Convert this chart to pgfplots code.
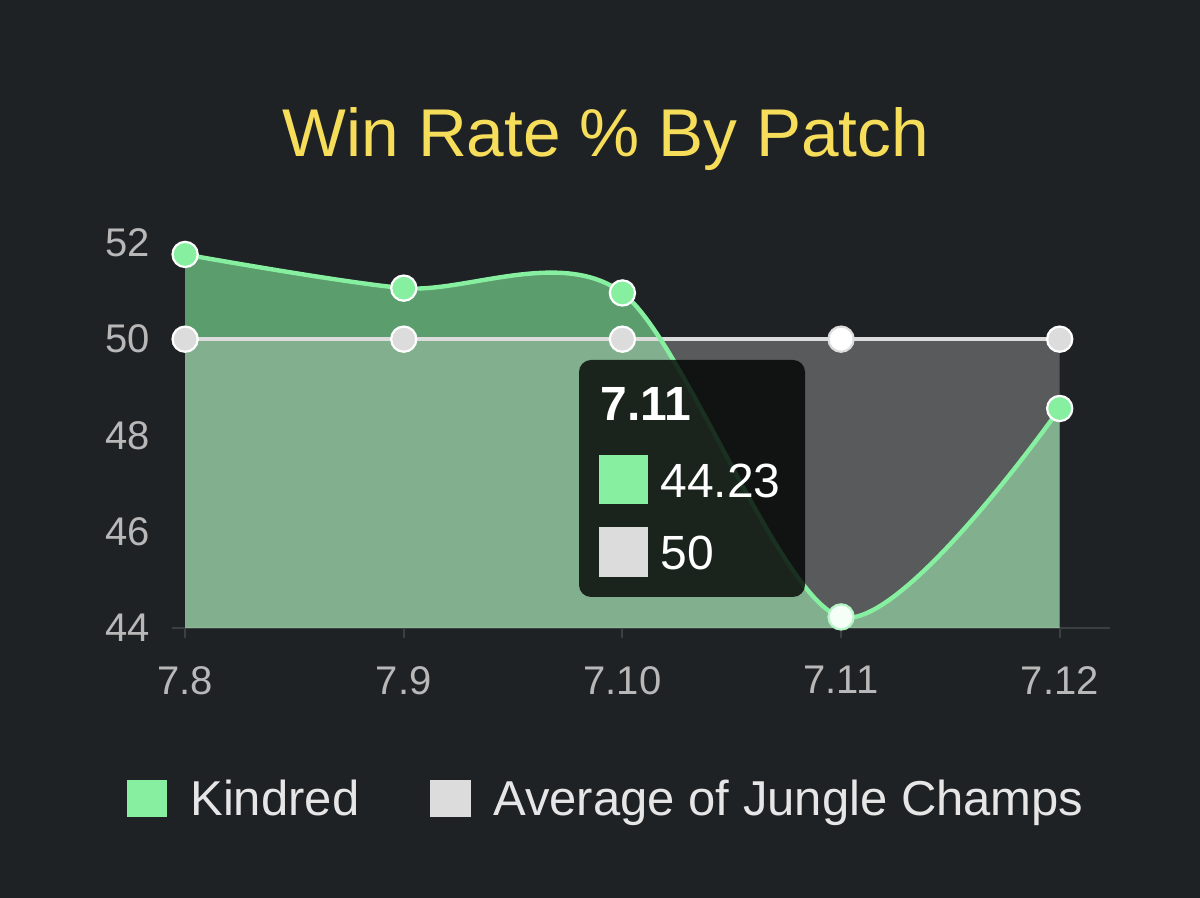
\documentclass[border=0pt]{standalone}
\usepackage{pgfplots}
\pgfplotsset{compat=1.18}
\usepackage{fontspec}
\setmainfont{Liberation Sans}
\definecolor{bg}{HTML}{1F2225}
\definecolor{kgreen}{HTML}{86F0A0}
\definecolor{agray}{HTML}{DCDCDC}
\definecolor{titleY}{HTML}{F6DE5A}
\definecolor{ticktxt}{HTML}{B8B8B8}
\definecolor{axline}{HTML}{3C3F42}
\definecolor{legtxt}{HTML}{E6E6E6}
\begin{document}
\begin{tikzpicture}
\fill[bg] (0,0) rectangle (600bp,449bp);
\node[anchor=base, text=titleY, font=\fontsize{33.8bp}{36bp}\selectfont, inner sep=0pt] at (303bp,370.5bp) {Win Rate \% By Patch};
\begin{axis}[
  at={(86bp,135bp)}, anchor=south west,
  scale only axis, width=469bp, height=207bp,
  xmin=-0.06, xmax=4.23, ymin=44, ymax=52.6,
  xtick={0,1,2,3,4}, xticklabels={7.8,7.9,7.10,7.11,7.12},
  ytick={44,46,48,50,52},
  axis lines*=left,
  x axis line style={draw=axline, line width=1bp},
  y axis line style={draw=none},
  xtick style={draw=axline, line width=1bp},
  ytick style={draw=none},
  tick align=outside, major tick length=5bp,
  tick label style={font=\fontsize{20bp}{22bp}\selectfont, text=ticktxt},
  x tick label style={anchor=north, inner sep=0pt, yshift=-14bp},
  y tick label style={anchor=east, inner sep=0pt, xshift=-6bp},
  /pgf/number format/assume math mode=true,
  clip mode=individual,
]
% Kindred fill
\addplot[fill=kgreen, fill opacity=0.6, draw=none, smooth, tension=0.5]
  coordinates {(0,51.76) (1,51.06) (2,50.96) (3,44.23) (4,48.56)} \closedcycle;
% Average fill
\addplot[fill=agray, fill opacity=0.3, draw=none]
  coordinates {(0,50) (1,50) (2,50) (3,50) (4,50)} \closedcycle;
% Average line
\addplot[draw=agray, line width=2.2bp]
  coordinates {(0,50) (1,50) (2,50) (3,50) (4,50)};
% Kindred line
\addplot[draw=kgreen, line width=2.2bp, smooth, tension=0.5]
  coordinates {(0,51.76) (1,51.06) (2,50.96) (3,44.23) (4,48.56)};
% markers
\addplot[only marks, mark=*, mark size=6.3bp, mark options={fill=agray, draw=white, line width=1.1bp}]
  coordinates {(0,50) (1,50) (2,50) (4,50)};
\addplot[only marks, mark=*, mark size=6.3bp, mark options={fill=white, draw=agray, line width=1.1bp}]
  coordinates {(3,50)};
\addplot[only marks, mark=*, mark size=6.3bp, mark options={fill=kgreen, draw=white, line width=1.1bp}]
  coordinates {(0,51.76) (1,51.06) (2,50.96) (4,48.56)};
\addplot[only marks, mark=*, mark size=6.3bp, mark options={fill=white!92!kgreen, draw=kgreen!60!white, line width=1.1bp}]
  coordinates {(3,44.23)};
\end{axis}
% tooltip
\fill[black, fill opacity=0.8, rounded corners=6bp] (289.5bp,150.5bp) rectangle (402.5bp,269bp);
\node[anchor=base west, inner sep=0pt, text=white, font=\bfseries\fontsize{24bp}{26bp}\selectfont] at (300bp,238.5bp) {7.11};
\fill[kgreen] (299.5bp,197bp) rectangle (324bp,221.5bp);
\node[anchor=base west, inner sep=0pt, text=white, font=\fontsize{24bp}{26bp}\selectfont] at (330bp,200bp) {44.23};
\fill[agray] (299.5bp,160.5bp) rectangle (324bp,185.5bp);
\node[anchor=base west, inner sep=0pt, text=white, font=\fontsize{24bp}{26bp}\selectfont] at (330bp,164bp) {50};
% legend
\fill[kgreen] (63.5bp,40.5bp) rectangle (83.5bp,59bp);
\node[anchor=base west, inner sep=0pt, text=legtxt, font=\fontsize{24.5bp}{26bp}\selectfont] at (95bp,41bp) {Kindred};
\fill[agray] (215bp,40.5bp) rectangle (235.5bp,59bp);
\node[anchor=base west, inner sep=0pt, text=legtxt, font=\fontsize{24.5bp}{26bp}\selectfont] at (246.5bp,41bp) {Average of Jungle Champs};
\end{tikzpicture}
\end{document}
